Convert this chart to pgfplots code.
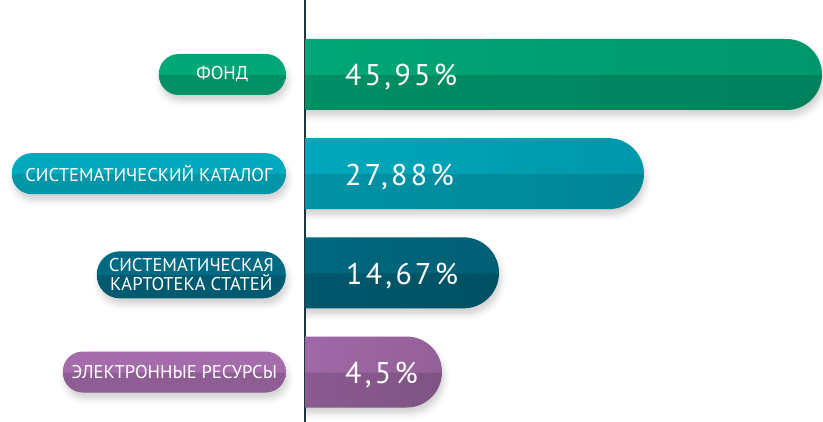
\documentclass[border=0pt]{standalone}
\usepackage{fontspec}
\setmainfont{PT Sans}
\newfontfamily\valfont[LetterSpace=11]{PT Sans}
\usepackage{pgfplots}
\pgfplotsset{compat=1.18}
\usetikzlibrary{shadows.blur,fadings}

\definecolor{gL}{HTML}{00A878}\definecolor{gD}{HTML}{009066}
\definecolor{tL}{HTML}{00A9BD}\definecolor{tD}{HTML}{0095A7}
\definecolor{dL}{HTML}{006A82}\definecolor{dD}{HTML}{005A6F}
\definecolor{pL}{HTML}{A46CAA}\definecolor{pD}{HTML}{8E5D94}
\definecolor{axln}{HTML}{1E363C}

\pgfdeclareverticalshading{shG}{100bp}{color(0bp)=(gD); color(49.9bp)=(gD); color(50.1bp)=(gL); color(100bp)=(gL)}
\pgfdeclareverticalshading{shT}{100bp}{color(0bp)=(tD); color(49.9bp)=(tD); color(50.1bp)=(tL); color(100bp)=(tL)}
\pgfdeclareverticalshading{shD}{100bp}{color(0bp)=(dD); color(49.9bp)=(dD); color(50.1bp)=(dL); color(100bp)=(dL)}
\pgfdeclareverticalshading{shP}{100bp}{color(0bp)=(pD); color(49.9bp)=(pD); color(50.1bp)=(pL); color(100bp)=(pL)}

\tikzset{
  softshadow/.style={blur shadow={shadow xshift=2pt, shadow yshift=-6pt, shadow blur radius=6pt, shadow opacity=18}},
  pill/.style={anchor=east, text=white, rounded corners=20pt, minimum height=41pt,
    inner sep=0pt, align=center, font=\fontsize{18.5}{19}\selectfont, softshadow},
  barround/.style={draw=none, rounded corners=35.5pt, softshadow, xshift=-40pt},
  darken/.style={draw=none, fill=black, fill opacity=0.10, rounded corners=35.5pt, path fading=west, xshift=-40pt},
}

\begin{document}
\begin{tikzpicture}
\begin{axis}[name=A, at={(0pt,0pt)}, anchor=south west, scale only axis,
  width=823pt, height=422pt, xmin=-265, xmax=558, ymin=0.2488, ymax=4.504,
  y dir=reverse, hide axis, clip=false]
\coordinate (bbA) at (rel axis cs:0,0);
\coordinate (bbB) at (rel axis cs:1,1);
\addplot[draw=none, mark=none, nodes near coords, point meta=explicit symbolic,
  nodes near coords style={pill, shading=shG, minimum width=127pt}] coordinates {(21,1) [ФОНД]};
\addplot[draw=none, mark=none, nodes near coords, point meta=explicit symbolic,
  nodes near coords style={pill, shading=shT, minimum width=274pt}] coordinates {(21,2) [СИСТЕМАТИЧЕСКИЙ КАТАЛОГ]};
\addplot[draw=none, mark=none, nodes near coords, point meta=explicit symbolic,
  nodes near coords style={pill, shading=shD, minimum width=189pt, minimum height=47pt, rounded corners=23pt}] coordinates {(21,3.02) [СИСТЕМАТИЧЕСКАЯ\\КАРТОТЕКА СТАТЕЙ]};
\addplot[draw=none, mark=none, nodes near coords, point meta=explicit symbolic,
  nodes near coords style={pill, shading=shP, minimum width=223pt}] coordinates {(21,4) [ЭЛЕКТРОННЫЕ РЕСУРСЫ]};
\end{axis}

\begin{axis}[name=B, at={(305pt,0pt)}, anchor=south west, scale only axis,
  width=518pt, height=422pt, xmin=0, xmax=518, ymin=0.2488, ymax=4.504,
  y dir=reverse, xbar, bar width=71pt, bar shift=0pt,
  axis x line=none, axis y line*=left, ytick=\empty,
  y axis line style={draw=axln, line width=1.8pt}]
% bar lengths as drawn (+40 hidden left of the axis line, where the bars start)
\addplot[barround, shading=shG] coordinates {(557,1)};
\addplot[barround, shading=shT] coordinates {(379,2)};
\addplot[barround, shading=shD] coordinates {(234,3)};
\addplot[barround, shading=shP] coordinates {(177,4)};
\addplot[darken] coordinates {(557,1)};
\addplot[darken] coordinates {(379,2)};
\addplot[darken] coordinates {(234,3)};
\addplot[darken] coordinates {(177,4)};
\addplot[draw=none, mark=none, nodes near coords, point meta=explicit symbolic,
  nodes near coords style={anchor=west, text=white, inner sep=0pt, yshift=-3pt,
  font=\valfont\fontsize{30}{31}\selectfont}]
  coordinates {(40,1) [45,95\%] (40,2) [27,88\%] (41,3) [14,67\%] (40,4) [4,5\%]};
\end{axis}
\pgfresetboundingbox
\path[use as bounding box] (bbA) rectangle (bbB);
\end{tikzpicture}
\end{document}
